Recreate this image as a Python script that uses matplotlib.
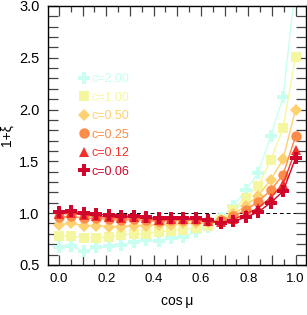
import numpy as np
import matplotlib
matplotlib.use("Agg")
import matplotlib.pyplot as plt
from matplotlib.ticker import MultipleLocator, FuncFormatter
from matplotlib.lines import Line2D

plt.rcParams['font.family'] = ['Liberation Sans', 'DejaVu Sans']

# cos(mu) bins
cos_mu = np.linspace(0.0, 1.0, 20)

labels = ["c=2.00", "c=1.00", "c=0.50", "c=0.25", "c=0.12", "c=0.06"]
colors = ["#c8fff0", "#f5f7a0", "#fed170", "#fd8c4a", "#f4302a", "#d0062c"]
markers = ["P", "s", "D", "o", "^", "P"]
sizes = [9, 6.5, 6, 7.5, 7.5, 8.5]

xi_c200 = [0.67, 0.68, 0.63, 0.67, 0.68, 0.69, 0.72, 0.74, 0.73, 0.76,
           0.77, 0.82, 0.87, 0.95, 1.07, 1.22, 1.39, 1.74, 2.12, 3.20]
xi_c100 = [0.78, 0.78, 0.76, 0.76, 0.77, 0.79, 0.80, 0.80, 0.82, 0.83,
           0.84, 0.86, 0.88, 0.93, 1.03, 1.15, 1.26, 1.51, 1.82, 2.51]
xi_c050 = [0.89, 0.90, 0.88, 0.88, 0.87, 0.87, 0.88, 0.88, 0.89, 0.89,
           0.90, 0.90, 0.91, 0.93, 0.99, 1.07, 1.17, 1.32, 1.52, 2.00]
xi_c025 = [0.96, 0.97, 0.95, 0.95, 0.94, 0.93, 0.94, 0.93, 0.92, 0.93,
           0.93, 0.93, 0.92, 0.93, 0.97, 1.03, 1.11, 1.22, 1.37, 1.74]
xi_c012 = [0.99, 1.00, 0.98, 0.97, 0.96, 0.95, 0.96, 0.95, 0.93, 0.94,
           0.94, 0.94, 0.92, 0.91, 0.94, 0.99, 1.05, 1.15, 1.28, 1.61]
xi_c006 = [1.01, 1.02, 1.00, 0.99, 0.98, 0.97, 0.97, 0.96, 0.95, 0.95,
           0.95, 0.95, 0.93, 0.90, 0.92, 0.96, 1.01, 1.10, 1.21, 1.53]
series = [xi_c200, xi_c100, xi_c050, xi_c025, xi_c012, xi_c006]

fig = plt.figure(figsize=(3.07, 3.15), dpi=100)
ax = fig.add_axes([0.156, 0.159, 0.842, 0.822])

ax.axhline(1.0, color="black", lw=0.7, ls=(0, (4, 3)), zorder=1)

for vals, col, mk, ms in zip(series, colors, markers, sizes):
    ax.plot(cos_mu, vals, color=col, marker=mk, ms=ms, lw=1.0,
            markeredgewidth=0, zorder=2)

handles = [Line2D([], [], color=c, marker=m, ms=s, ls="none", markeredgewidth=0)
           for c, m, s in zip(colors, markers, sizes)]
ax.legend(handles, labels, loc="upper left", bbox_to_anchor=(0.125, 0.74),
          frameon=False, fontsize=9, handlelength=0.6, handletextpad=0.3,
          labelspacing=0.52, borderpad=0, borderaxespad=0, labelcolor=colors)

ax.set_xlim(-0.047, 1.046)
ax.set_ylim(0.5, 3.0)

ax.xaxis.set_major_locator(MultipleLocator(0.1))
ax.xaxis.set_minor_locator(MultipleLocator(0.05))
ax.xaxis.set_major_formatter(FuncFormatter(
    lambda v, p: f"{v:.1f}" if abs(round(v * 10) % 2) == 0 else ""))
ax.yaxis.set_major_locator(MultipleLocator(0.5))
ax.yaxis.set_minor_locator(MultipleLocator(0.1))

ax.tick_params(which="both", direction="in", top=True, right=True,
               color="#444444", width=0.9)
ax.tick_params(axis="x", which="major", length=7, labelsize=9.5, pad=6)
ax.tick_params(axis="x", which="minor", length=4)
ax.tick_params(axis="y", which="both", length=7, labelsize=10.5, pad=6)

for sp in ax.spines.values():
    sp.set_linewidth(1.0)

ax.set_xlabel("cos\u2009\u03bc", fontsize=10, labelpad=6)
ax.set_ylabel("1+\u03be", fontsize=10, labelpad=4)

fig.savefig("out.png", dpi=100)
